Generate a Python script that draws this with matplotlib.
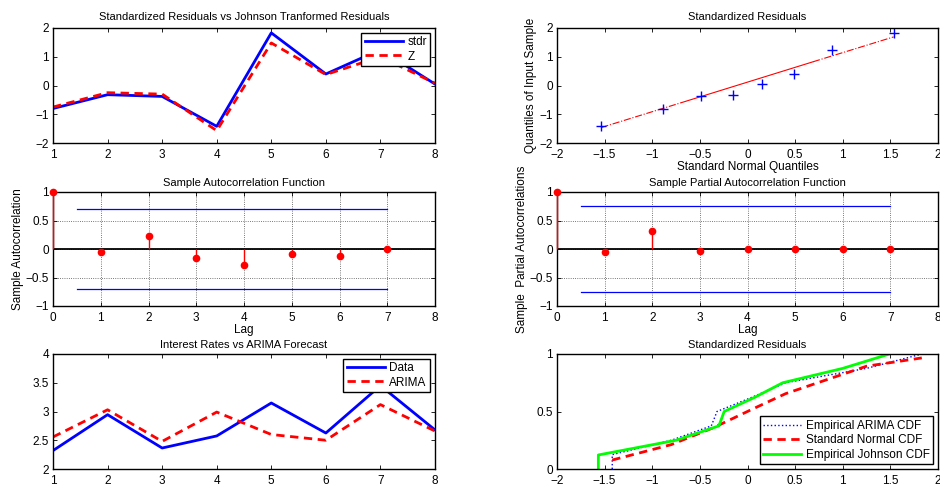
import matplotlib
matplotlib.use("Agg")
import matplotlib.pyplot as plt
from matplotlib.ticker import FuncFormatter
import numpy as np

plt.rcParams['font.family'] = ['Liberation Sans', 'DejaVu Sans']
plt.rcParams['font.size'] = 8
plt.rcParams['axes.unicode_minus'] = True

# ---- data ----
obs = [1, 2, 3, 4, 5, 6, 7, 8]
stdr = [-0.80, -0.32, -0.38, -1.42, 1.83, 0.40, 1.25, 0.05]
z_johnson = [-0.75, -0.25, -0.30, -1.57, 1.48, 0.38, 1.00, 0.08]

qq_theory = [-1.534, -0.887, -0.489, -0.157, 0.157, 0.489, 0.887, 1.534]
qq_sample = [-1.42, -0.80, -0.38, -0.32, 0.05, 0.40, 1.25, 1.83]
qq_line_x = [-1.534, -0.688, 0.688, 1.534]
qq_line_y = [-1.46, -0.59, 0.825, 1.69]

lags = [0, 1, 2, 3, 4, 5, 6, 7]
acf_vals = [1.0, -0.06, 0.225, -0.165, -0.275, -0.093, -0.13, 0.005]
acf_bound = 0.705
pacf_vals = [1.0, -0.06, 0.31, -0.035, 0.0, 0.0, 0.0, 0.0]
pacf_bound = 0.76
bound_x = [0.5, 7]

rates = [2.32, 2.945, 2.365, 2.575, 3.148, 2.626, 3.45, 2.68]
arima = [2.557, 3.03, 2.48, 2.99, 2.60, 2.50, 3.12, 2.66]

cdf_arima_x = [-1.42, -1.42, -0.80, -0.38, -0.32, 0.05, 0.40, 1.25, 1.83]
cdf_arima_y = [0.0, 0.125, 0.25, 0.375, 0.5, 0.625, 0.75, 0.875, 1.0]
cdf_norm_x = [-1.42, -0.80, -0.38, -0.32, 0.05, 0.40, 1.25, 1.83]
cdf_norm_y = [0.078, 0.212, 0.352, 0.374, 0.520, 0.655, 0.894, 0.966]
cdf_john_x = [-1.566, -1.566, -0.75, -0.30, -0.245, 0.08, 0.37, 1.0, 1.49]
cdf_john_y = [0.0, 0.122, 0.25, 0.375, 0.5, 0.625, 0.75, 0.875, 1.0]

W, H = 940, 487
fig = plt.figure(figsize=(W / 100, H / 100), dpi=100)

FS = 8
gfmt = FuncFormatter(lambda v, p: ('%g' % v).replace('-', '\u2212'))

def ax_at(l, t, r, b):
    return fig.add_axes([l / W, 1 - b / H, (r - l) / W, (b - t) / H])

def style(ax):
    ax.tick_params(direction='in', top=True, right=True, length=3, width=0.6,
                   labelsize=FS + 0.5, colors='k')
    ax.tick_params(axis='x', pad=4)
    ax.tick_params(axis='y', pad=3)
    ax.xaxis.set_major_formatter(gfmt)
    ax.yaxis.set_major_formatter(gfmt)
    for s in ax.spines.values():
        s.set_linewidth(1.0)
        s.set_color('k')

def mlegend(ax, loc):
    leg = ax.legend(loc=loc, fancybox=False, framealpha=1, edgecolor='k',
                    handlelength=3.2, borderpad=0.3, labelspacing=0.2,
                    handletextpad=0.4, fontsize=FS + 0.5, borderaxespad=0.4)
    leg.get_frame().set_linewidth(1.0)

# Panel 1
ax1 = ax_at(53, 28, 435, 143)
ax1.plot(obs, stdr, color='b', lw=2, label='stdr')
ax1.plot(obs, z_johnson, color='r', lw=2, ls='--', dashes=(3, 2), label='Z')
ax1.set_xlim(1, 8); ax1.set_ylim(-2, 2)
ax1.set_yticks([-2, -1, 0, 1, 2])
ax1.set_title('Standardized Residuals vs Johnson Tranformed Residuals', fontsize=FS, pad=6)
mlegend(ax1, 'upper right')
style(ax1)

# Panel 2
ax2 = ax_at(557, 28, 938, 143)
ax2.plot(qq_line_x[:2], qq_line_y[:2], color='r', lw=0.8, ls='-.')
ax2.plot(qq_line_x[1:3], qq_line_y[1:3], color='r', lw=0.8, ls='-')
ax2.plot(qq_line_x[2:], qq_line_y[2:], color='r', lw=0.8, ls='-.')
ax2.plot(qq_theory, qq_sample, ls='none', marker='+', color='b', ms=7, mew=1)
ax2.set_xlim(-2, 2); ax2.set_ylim(-2, 2)
ax2.set_xticks([-2, -1.5, -1, -0.5, 0, 0.5, 1, 1.5, 2])
ax2.set_yticks([-2, -1, 0, 1, 2])
ax2.set_title('Standardized Residuals', fontsize=FS, pad=6)
ax2.set_xlabel('Standard Normal Quantiles', fontsize=FS + 0.5, labelpad=0)
ax2.set_ylabel('Quantiles of Input Sample', fontsize=FS + 0.5, labelpad=2)
style(ax2)

def corr_panel(ax, vals, bound, ylabel, title):
    ax.grid(True, ls=':', color='k', lw=0.6, alpha=0.7)
    ax.axhline(0, color='k', lw=1.3, zorder=2)
    ax.vlines(lags, 0, vals, color='r', lw=1, zorder=3, clip_on=False)
    ax.plot(lags, vals, ls='none', marker='o', color='r', ms=4.5, zorder=4, clip_on=False)
    ax.plot(bound_x, [bound, bound], color='b', lw=0.9)
    ax.plot(bound_x, [-bound, -bound], color='b', lw=0.9)
    ax.set_xlim(0, 8); ax.set_ylim(-1, 1)
    ax.set_xticks(range(9))
    ax.set_yticks([-1, -0.5, 0, 0.5, 1])
    ax.set_xlabel('Lag', fontsize=FS + 0.5, labelpad=0)
    ax.set_ylabel(ylabel, fontsize=FS + 0.5, labelpad=1)
    ax.set_title(title, fontsize=FS, pad=4)
    style(ax)

ax3 = ax_at(53, 192, 435, 306)
corr_panel(ax3, acf_vals, acf_bound, 'Sample Autocorrelation', 'Sample Autocorrelation Function')
ax4 = ax_at(557, 192, 938, 306)
corr_panel(ax4, pacf_vals, pacf_bound, 'Sample  Partial Autocorrelations', 'Sample Partial Autocorrelation Function')

# Panel 5
ax5 = ax_at(53, 354, 435, 469)
ax5.plot(obs, rates, color='b', lw=2, label='Data')
ax5.plot(obs, arima, color='r', lw=2, ls='--', dashes=(3, 2), label='ARIMA')
ax5.set_xlim(1, 8); ax5.set_ylim(2, 4)
ax5.set_yticks([2, 2.5, 3, 3.5, 4])
ax5.set_title('Interest Rates vs ARIMA Forecast', fontsize=FS, pad=4)
mlegend(ax5, 'upper right')
style(ax5)

# Panel 6
ax6 = ax_at(557, 354, 938, 469)
ax6.plot(cdf_arima_x, cdf_arima_y, color='b', lw=1, ls=':', label='Empirical ARIMA CDF')
ax6.plot(cdf_norm_x, cdf_norm_y, color='r', lw=2, ls='--', dashes=(3, 2), label='Standard Normal CDF')
ax6.plot(cdf_john_x, cdf_john_y, color='#00ff00', lw=2, label='Empirical Johnson CDF')
ax6.set_xlim(-2, 2); ax6.set_ylim(0, 1)
ax6.set_xticks([-2, -1.5, -1, -0.5, 0, 0.5, 1, 1.5, 2])
ax6.set_yticks([0, 0.5, 1])
ax6.set_title('Standardized Residuals', fontsize=FS, pad=4)
mlegend(ax6, 'lower right')
style(ax6)

fig.savefig('out.png', dpi=100, facecolor='white')
